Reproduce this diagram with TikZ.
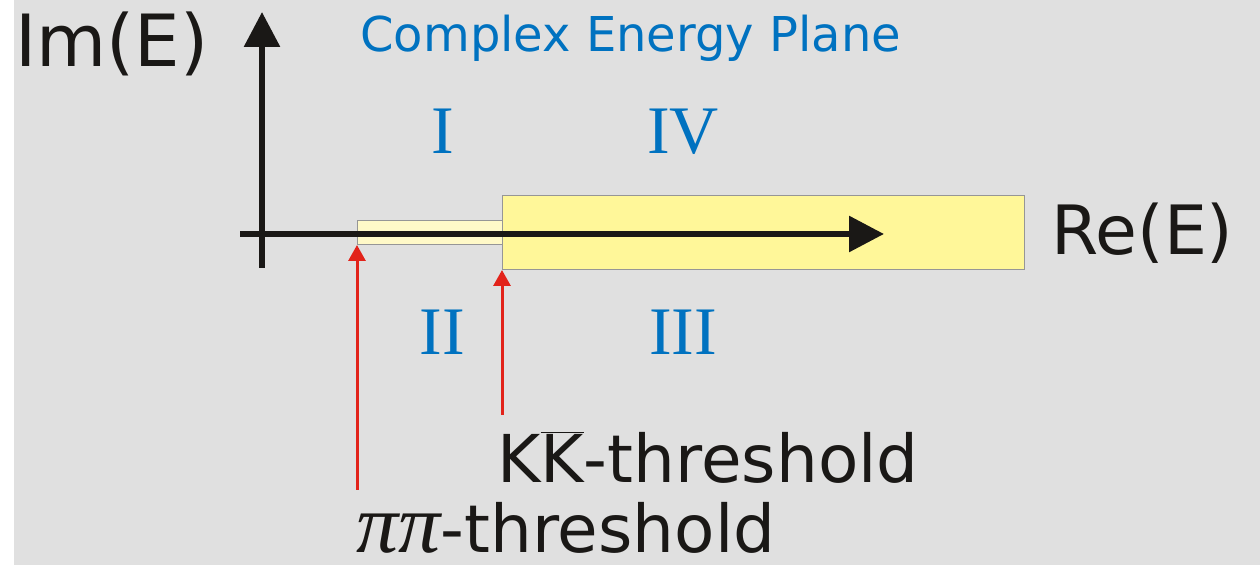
\documentclass[tikz,border=0pt]{standalone}
\usepackage{fontspec}
\setmainfont{DejaVu Sans}
\newfontfamily\numfont{Liberation Serif}
\definecolor{planebg}{RGB}{224,224,224}
\definecolor{planeblue}{RGB}{0,114,192}
\definecolor{cutyellow}{RGB}{255,247,153}
\definecolor{paleyellow}{RGB}{255,249,200}
\definecolor{edgegray}{RGB}{150,150,150}
\definecolor{thrred}{RGB}{226,35,26}
\definecolor{inkblack}{RGB}{26,24,22}
\usetikzlibrary{arrows.meta,positioning}

\begin{document}
\begin{tikzpicture}[x=0.5pt,y=-0.5pt,
    axis/.style={inkblack,line width=3pt,-{Triangle[length=17.5pt,width=17.5pt]}},
    thrarrow/.style={thrred,line width=1.5pt,-{Triangle[length=8pt,width=8.5pt]}},
    sheet/.style={draw=edgegray,line width=0.5pt},
    axislabel/.style={inner sep=0pt,anchor=base west,text=inkblack},
    region/.style={inner sep=0pt,anchor=base,text=planeblue,font=\numfont\fontsize{34}{40}\selectfont}]
  \useasboundingbox (0,0) rectangle (1260,565);
  \fill[white] (0,0) rectangle (1260,565);
  \fill[planebg] (14,0) rectangle (1260,565);

  \coordinate (pipi) at (357,245);
  \coordinate (kkbar) at (502,270);
  \filldraw[sheet,fill=paleyellow] (357,221) rectangle (502,245);
  \filldraw[sheet,fill=cutyellow] (502,196) rectangle (1024,270);

  \coordinate (origin) at (262,234);
  \coordinate (reend) at (884,234);
  \coordinate (imend) at (262,12);
  \draw[axis] (240,234) -- (reend);
  \draw[axis] (262,268) -- (imend);

  \node[axislabel,font=\fontsize{36}{42}\selectfont] (imlabel) at (15,67) {Im(E)};
  \node[axislabel,font=\fontsize{34}{40}\selectfont] (relabel) at (1051,255) {Re(E)};
  \node[axislabel,text=planeblue,font=\fontsize{24}{28}\selectfont] (title) at (360,52) {Complex Energy Plane};

  \node[region] (one) at (443,154) {I};
  \node[region] (four) at (683,154) {IV};
  \node[region] (two) at (442,355) {II};
  \node[region] (three) at (683,355) {III};

  \node[axislabel,font=\fontsize{33}{40}\selectfont] (kklabel) at (497,483) {K$\overline{\mbox{K}}$-threshold};
  \node[axislabel,font=\fontsize{33}{40}\selectfont] (pilabel) at (356,553) {{\numfont\itshape\fontsize{42}{46}\selectfont ππ}-threshold};

  \coordinate (pistart) at (357,490);
  \coordinate (kstart) at (502,415);
  \draw[thrarrow] (pistart) -- (pipi);
  \draw[thrarrow] (kstart) -- (kkbar);
\end{tikzpicture}
\end{document}
